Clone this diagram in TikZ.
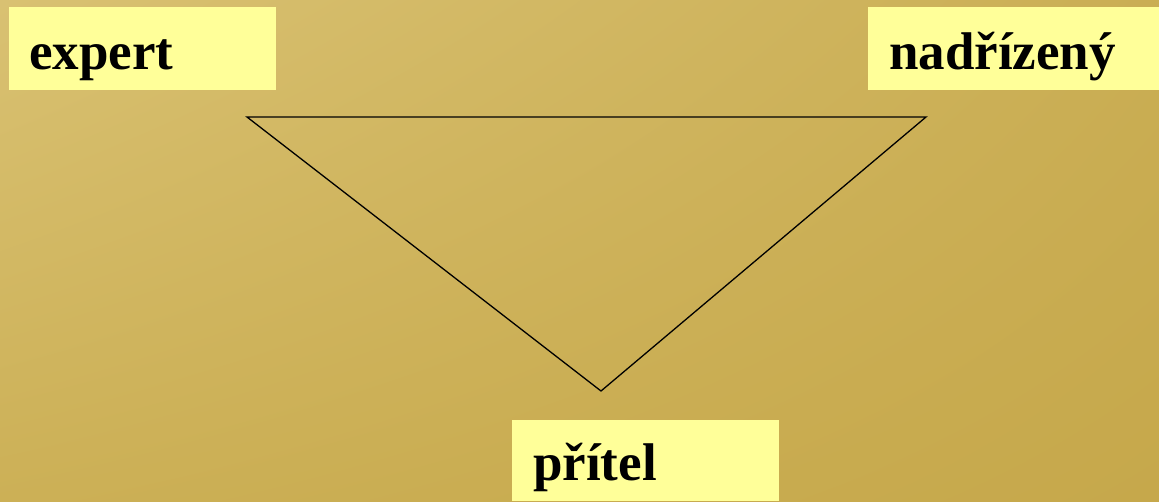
\documentclass[tikz,border=0pt]{standalone}
\usepackage{fontspec}
\setmainfont{Liberation Serif}
\usetikzlibrary{shadings}
\begin{document}
\begin{tikzpicture}[x=1pt,y=-1pt,
  lbl/.style={fill=labelfill, inner sep=0pt, anchor=north west},
  txt/.style={anchor=base west, inner sep=0pt, font=\fontsize{53}{60}\selectfont\bfseries},
  edge/.style={draw=black, line width=1.3pt, line join=miter}]
\definecolor{bgtl}{HTML}{D9C172}
\definecolor{bgtr}{HTML}{CAAE54}
\definecolor{bgbl}{HTML}{CCB056}
\definecolor{bgbr}{HTML}{C6A84B}
\definecolor{labelfill}{HTML}{FFFF99}
\useasboundingbox (0,0) rectangle (1159,501);
\shade[upper left=bgtl, upper right=bgtr, lower left=bgbl, lower right=bgbr] (0,0) rectangle (1159,501);
% label boxes
\fill[labelfill] (9,7) rectangle (276,90);
\fill[labelfill] (868,7) rectangle (1159,90);
\fill[labelfill] (512,420) rectangle (779,501);
\node[txt] (expert) at (29,69) {expert};
\node[txt] (nadr) at (889,69) {nadřízený};
\node[txt] (pritel) at (533,480) {přítel};
% triangle
\coordinate (a) at (247,117);
\coordinate (b) at (926,117);
\coordinate (c) at (601,391);
\draw[edge] (a) -- (b) -- (c) -- cycle;
\end{tikzpicture}
\end{document}
